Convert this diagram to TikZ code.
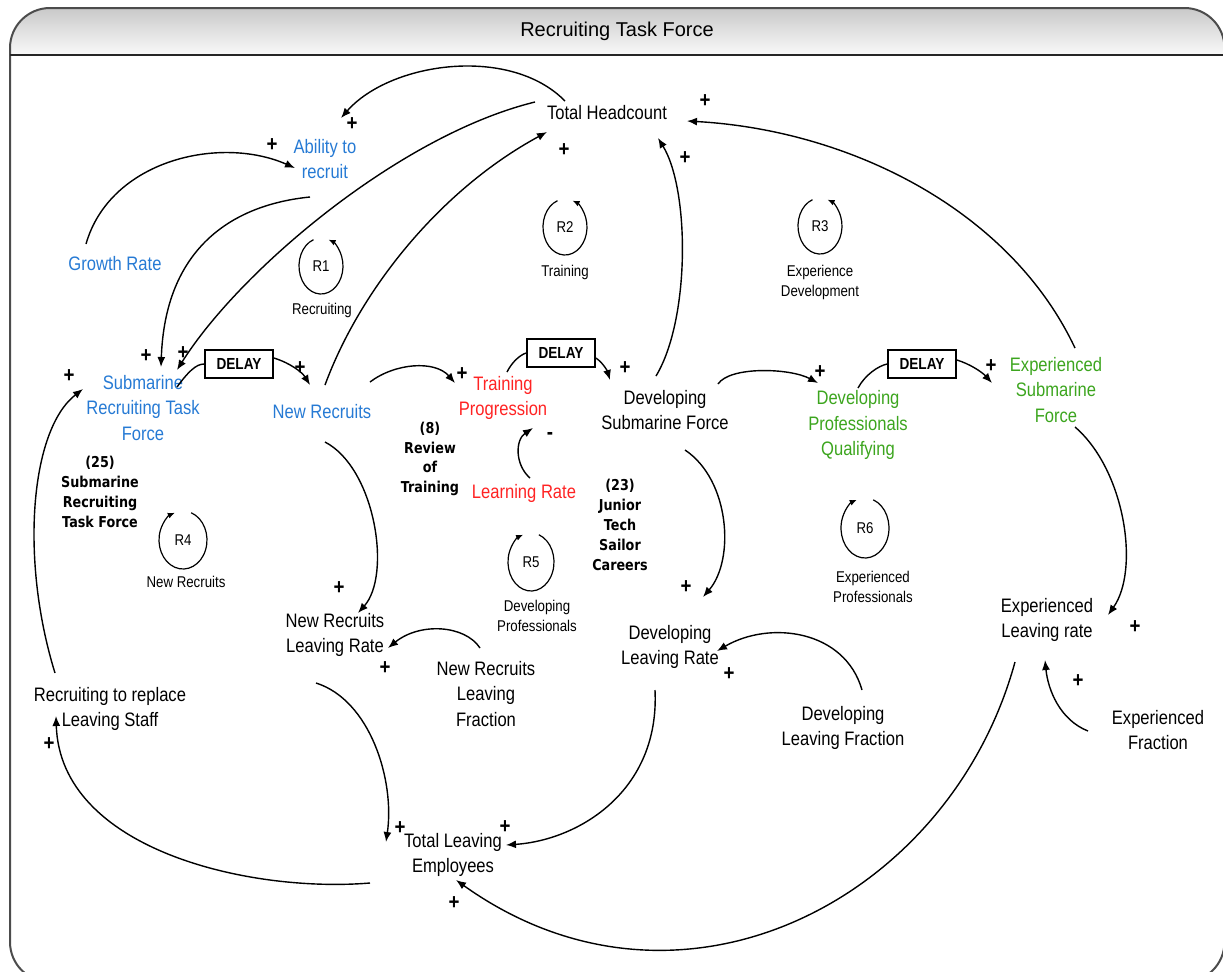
\documentclass[tikz,border=0pt]{standalone}
\usepackage{fontspec}
\setmainfont{Liberation Sans}[FakeStretch=0.85]
\newfontfamily\titlefont{Liberation Sans}
\newfontfamily\annfont{DejaVu Sans}[FakeStretch=0.85]
\usetikzlibrary{arrows.meta}
\definecolor{cblue}{RGB}{38,122,212}
\definecolor{cred}{RGB}{255,35,35}
\definecolor{cgreen}{RGB}{60,165,30}
\begin{document}
\begin{tikzpicture}[x=0.5pt,y=-0.5pt,
  lab/.style={align=center, inner sep=1pt, font=\fontsize{9.75}{12.75}\selectfont},
  small/.style={align=center, inner sep=0pt, font=\fontsize{7.8}{10}\selectfont},
  ann/.style={align=center, inner sep=0pt, font=\annfont\bfseries\fontsize{7.5}{9.9}\selectfont},
  pl/.style={inner sep=0pt, font=\bfseries\fontsize{11}{11}\selectfont},
  delaybox/.style={draw, line width=0.9pt, minimum width=34pt, minimum height=14pt, inner sep=0pt, font=\bfseries\fontsize{8}{8}\selectfont},
  arr/.style={line width=0.7pt, -{Latex[length=5pt,width=4pt]}},
  ln/.style={line width=0.7pt},
  loopar/.style={line width=0.6pt, -{Latex[length=3.5pt,width=3pt]}}
]
\useasboundingbox (0,0) rectangle (1223,971);
\clip (0,0) rectangle (1223,971);
% frame and header
\shade[top color=gray!42, bottom color=gray!5] (10,55) -- (10,48) arc[start angle=180, end angle=270, radius=40] -- (1184,8) arc[start angle=270, end angle=360, radius=40] -- (1224,55) -- cycle;
\draw[line width=1pt, draw=black!70, rounded corners=20pt] (10,8) rectangle (1224.5,982);
\draw[line width=1pt, draw=black!85] (10,55) -- (1224,55);
\node[font=\titlefont\fontsize{10}{12}\selectfont] (title) at (617,31) {Recruiting Task Force};

% variables
\node[lab] (tot) at (607,113) {Total Headcount};
\node[lab, text=cblue] (abil) at (325,159) {Ability to\\recruit};
\node[lab, text=cblue] (grow) at (115,264) {Growth Rate};
\node[lab, text=cblue] (sub) at (143,408) {Submarine\\Recruiting Task\\Force};
\node[lab, text=cblue] (nr) at (322,412) {New Recruits};
\node[lab, text=cred] (tp) at (503,398) {Training\\Progression};
\node[lab, text=cred] (lr) at (524,493) {Learning Rate};
\node[lab] (dsf) at (665,410) {Developing\\Submarine Force};
\node[lab, text=cgreen] (dpq) at (858,425) {Developing\\Professionals\\Qualifying};
\node[lab, text=cgreen] (esf) at (1056,390) {Experienced\\Submarine\\Force};
\node[lab] (nrlr) at (335,635) {New Recruits\\Leaving Rate};
\node[lab] (nrlf) at (486,694) {New Recruits\\Leaving\\Fraction};
\node[lab] (dlr) at (670,647) {Developing\\Leaving Rate};
\node[lab] (dlf) at (843,728) {Developing\\Leaving Fraction};
\node[lab] (elr) at (1047,620) {Experienced\\Leaving rate};
\node[lab] (ef) at (1158,730) {Experienced\\Fraction};
\node[lab] (rrl) at (110,709) {Recruiting to replace\\Leaving Staff};
\node[lab] (tle) at (453,855) {Total Leaving\\Employees};

% delays
\node[delaybox] (d1) at (239,364) {DELAY};
\node[delaybox] (d2) at (561,353) {DELAY};
\node[delaybox] (d3) at (922,364) {DELAY};

% annotations
\node[ann] (a25) at (100,492) {(25)\\Submarine\\Recruiting\\Task Force};
\node[ann] (a8) at (430,459) {(8)\\Review\\of\\Training};
\node[ann] (a23) at (620,525) {(23)\\Junior\\Tech\\Sailor\\Careers};

% loops
\node[small] (r1) at (321,266) {R1};
\node[small] (r2) at (565,227) {R2};
\node[small] (r3) at (820,226) {R3};
\node[small] (r4) at (183,540) {R4};
\node[small] (r5) at (531,562) {R5};
\node[small] (r6) at (865,528) {R6};
\draw[loopar] ([shift={(250:22 and 28)}]r1.center) arc[start angle=250, end angle=-70, x radius=22, y radius=28];
\draw[loopar] ([shift={(250:22 and 28)}]r2.center) arc[start angle=250, end angle=-70, x radius=22, y radius=28];
\draw[loopar] ([shift={(250:22 and 28)}]r3.center) arc[start angle=250, end angle=-70, x radius=22, y radius=28];
\draw[loopar] ([shift={(-70:24 and 29)}]r4.center) arc[start angle=-70, end angle=250, x radius=24, y radius=29];
\draw[loopar] ([shift={(-70:23 and 29)}]r5.center) arc[start angle=-70, end angle=250, x radius=23, y radius=29];
\draw[loopar] ([shift={(-70:24 and 30)}]r6.center) arc[start angle=-70, end angle=250, x radius=24, y radius=30];
\node[small] (l1) at (322,310) {Recruiting};
\node[small] (l2) at (565,272) {Training};
\node[small] (l3) at (820,282) {Experience\\Development};
\node[small] (l4) at (186,582) {New Recruits};
\node[small] (l5) at (537,616) {Developing\\Professionals};
\node[small] (l6) at (873,587) {Experienced\\Professionals};

% connectors
\draw[arr] ([shift={(-42,-12)}]tot.center) .. controls (510,45) and (390,62) .. ([shift={(16,-41)}]abil.center);
\draw[arr] ([shift={(-72,-11)}]tot.center) .. controls (400,135) and (240,270) .. ([shift={(34,-38)}]sub.center);
\draw[arr] ([shift={(-15,38)}]abil.center) .. controls (230,205) and (165,250) .. ([shift={(18,-41)}]sub.center);
\draw[arr] ([shift={(-29,-20)}]grow.center) .. controls (110,160) and (220,135) .. ([shift={(-30,9)}]abil.center);
\draw[arr] ([shift={(3,-27)}]nr.center) .. controls (360,290) and (440,190) .. ([shift={(-60,19)}]tot.center);
\draw[arr] ([shift={(-9,-34)}]dsf.center) .. controls (690,320) and (690,190) .. ([shift={(51,25)}]tot.center);
\draw[arr] ([shift={(19,-42)}]esf.center) .. controls (1010,210) and (850,130) .. ([shift={(80,8)}]tot.center);
\draw[ln] ([shift={(34,-21)}]sub.center) .. controls (188,372) and (196,364) .. (d1.west);
\draw[arr] ([shift={(0,-6)}]d1.east) .. controls (290,363) and (302,372) .. ([shift={(-12,-27)}]nr.center);
\draw[arr] ([shift={(48,-30)}]nr.center) .. controls (395,363) and (435,360) .. ([shift={(-48,-15)}]tp.center);
\draw[ln] ([shift={(4,-26)}]tp.center) .. controls (512,362) and (520,355) .. (d2.west);
\draw[arr] ([shift={(0,5)}]d2.east) .. controls (602,362) and (607,370) .. ([shift={(-55,-30)}]dsf.center);
\draw[arr] ([shift={(53,-26)}]dsf.center) .. controls (730,366) and (790,368) .. ([shift={(-40,-42)}]dpq.center);
\draw[ln] ([shift={(0,-37)}]dpq.center) .. controls (865,375) and (878,366) .. (d3.west);
\draw[arr] ([shift={(0,-4)}]d3.east) .. controls (970,364) and (982,372) .. ([shift={(-64,-7)}]esf.center);
\draw[arr] ([shift={(3,30)}]nr.center) .. controls (375,468) and (392,575) .. ([shift={(23,-22)}]nrlr.center);
\draw[arr] ([shift={(-6,-46)}]nrlf.center) .. controls (465,625) and (420,622) .. ([shift={(53,13)}]nrlr.center);
\draw[arr] ([shift={(-19,48)}]nrlr.center) .. controls (370,700) and (395,780) .. ([shift={(-67,-13)}]tle.center);
\draw[arr] ([shift={(20,40)}]dsf.center) .. controls (730,480) and (735,560) .. ([shift={(33,-50)}]dlr.center);
\draw[arr] ([shift={(19,-38)}]dlf.center) .. controls (845,630) and (770,620) .. ([shift={(47,4)}]dlr.center);
\draw[arr] ([shift={(-15,43)}]dlr.center) .. controls (660,790) and (580,840) .. ([shift={(53,-10)}]tle.center);
\draw[arr] ([shift={(19,37)}]esf.center) .. controls (1125,470) and (1140,570) .. ([shift={(61,-5)}]elr.center);
\draw[arr] ([shift={(-70,1)}]ef.center) .. controls (1060,720) and (1048,690) .. ([shift={(-2,40)}]elr.center);
\draw[arr] ([shift={(-32,42)}]elr.center) .. controls (950,900) and (680,1040) .. ([shift={(3,25)}]tle.center);
\draw[arr] ([shift={(-83,28)}]tle.center) .. controls (250,893) and (60,850) .. ([shift={(-54,7)}]rrl.center);
\draw[arr] ([shift={(-55,-36)}]rrl.center) .. controls (20,560) and (30,430) .. ([shift={(-60,-19)}]sub.center);
\draw[arr] ([shift={(6,-15)}]lr.center) .. controls (515,465) and (515,440) .. ([shift={(30,30)}]tp.center);

% polarity signs
\node[pl] (p1) at (352,124) {+};
\node[pl] (p2) at (146,356) {+};
\node[pl] (p3) at (183,353) {+};
\node[pl] (p4) at (272,145) {+};
\node[pl] (p5) at (564,150) {+};
\node[pl] (p6) at (685,158) {+};
\node[pl] (p7) at (705,101) {+};
\node[pl] (p8) at (300,368) {+};
\node[pl] (p9) at (462,374) {+};
\node[pl] (p10) at (625,368) {+};
\node[pl] (p11) at (820,372) {+};
\node[pl] (p12) at (991,366) {+};
\node[pl] (p13) at (339,588) {+};
\node[pl] (p14) at (385,668) {+};
\node[pl] (p15) at (400,828) {+};
\node[pl] (p16) at (686,587) {+};
\node[pl] (p17) at (729,674) {+};
\node[pl] (p18) at (505,827) {+};
\node[pl] (p19) at (1135,627) {+};
\node[pl] (p20) at (1078,681) {+};
\node[pl] (p21) at (454,903) {+};
\node[pl] (p22) at (49,744) {+};
\node[pl] (p23) at (69,376) {+};
\node[pl] (m1) at (550,436) {-};
\end{tikzpicture}
\end{document}
